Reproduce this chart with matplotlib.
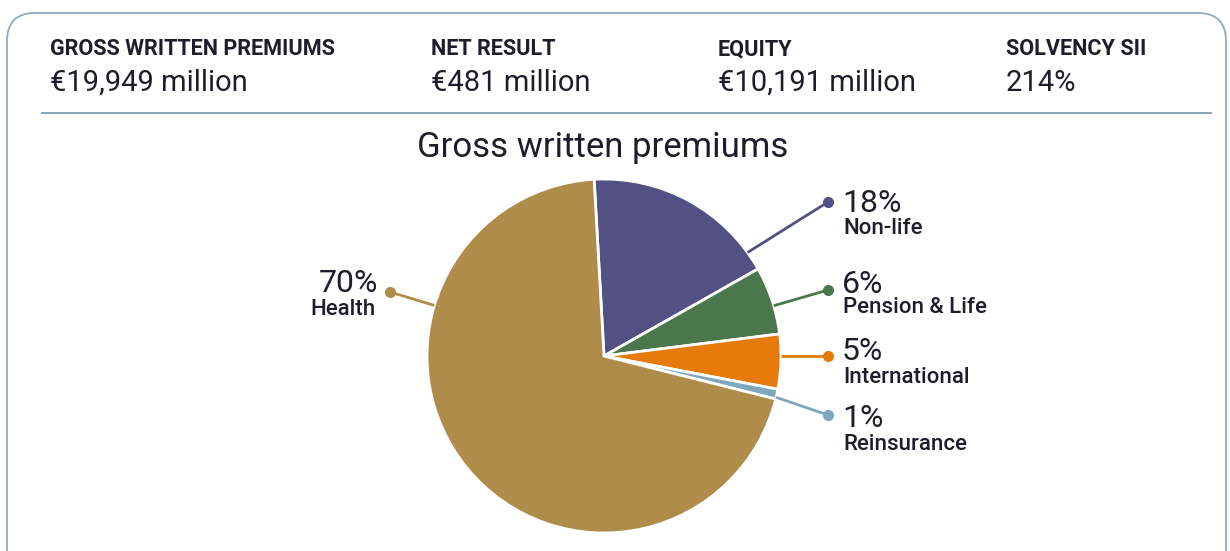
import numpy as np
import matplotlib.pyplot as plt
from matplotlib.patches import FancyBboxPatch

plt.rcParams['font.family'] = ['Roboto', 'DejaVu Sans']

# Key figures along the top
kpi_titles = ["GROSS WRITTEN PREMIUMS", "NET RESULT", "EQUITY", "SOLVENCY SII"]
kpi_values = ["€19,949 million", "€481 million", "€10,191 million", "214%"]

# Pie data (share of gross written premiums, %), clockwise from the top
segments = ["Non-life", "Pension & Life", "International", "Reinsurance", "Health"]
shares = [17.7, 6.2, 5.0, 0.9, 70.2]
pct_labels = ["18%", "6%", "5%", "1%", "70%"]
colors = ["#525184", "#4A784C", "#E67A0B", "#7DA7BF", "#B08C4A"]

W, H = 1230, 551
TXT = "#1d1d2b"
EDGE = "#8eabc3"

fig = plt.figure(figsize=(W / 100, H / 100), dpi=100)
ax = fig.add_axes([0, 0, 1, 1])


def fy(y):
    # pixel row (from top) -> data y
    return H - y


# rounded frame and separator
frame = FancyBboxPatch((7, fy(590)), 1219, 577, boxstyle="round,pad=0,rounding_size=28",
                       fc="none", ec=EDGE, lw=1.3)
ax.add_patch(frame)
ax.plot([42, 1211], [fy(113), fy(113)], color="#7f9db6", lw=1.3)

# header
kpi_x = [50, 431, 718, 1006]
for x, t, v in zip(kpi_x, kpi_titles, kpi_values):
    ax.text(x, fy(55), t, fontsize=15.6, fontweight="bold", color=TXT, va="baseline")
    ax.text(x, fy(91), v, fontsize=21, color=TXT, va="baseline")

ax.text(603, fy(157), "Gross written premiums", fontsize=25, color=TXT,
        ha="center", va="baseline")

# pie
cx, cy, r = 604, fy(356), 177
ax.pie(shares, colors=colors, startangle=93.2, counterclock=False,
       center=(cx, cy), radius=r, frame=True,
       wedgeprops=dict(edgecolor="white", linewidth=2))

# callouts: rim angle, dot position, text anchor, alignment
rim_angles = [35.8, 16.5, 0.0, -13.5, 163.4]
dots = [(828, 202), (828, 290), (828, 356), (828, 415), (390, 292)]
pct_pos = [(842, 212), (842, 293), (842, 360), (842, 427), (378, 292)]
name_pos = [(843, 234), (843, 313), (843, 383), (843, 450), (375, 315)]
aligns = ["left", "left", "left", "left", "right"]

for i in range(len(segments)):
    a = np.radians(rim_angles[i])
    x0, y0 = cx + r * np.cos(a), cy + r * np.sin(a)
    dx, dy = dots[i]
    ax.plot([x0, dx], [y0, fy(dy)], color=colors[i], lw=2, solid_capstyle="butt")
    ax.plot(dx, fy(dy), "o", color=colors[i], ms=8, mec="none")
    ax.text(pct_pos[i][0], fy(pct_pos[i][1]), pct_labels[i], fontsize=23,
            color=TXT, ha=aligns[i], va="baseline")
    ax.text(name_pos[i][0], fy(name_pos[i][1]), segments[i], fontsize=16,
            fontweight="medium", color=TXT, ha=aligns[i], va="baseline")

ax.set_xlim(0, W)
ax.set_ylim(0, H)
ax.set_aspect("auto")
ax.axis("off")

fig.savefig("out.png", dpi=100)
